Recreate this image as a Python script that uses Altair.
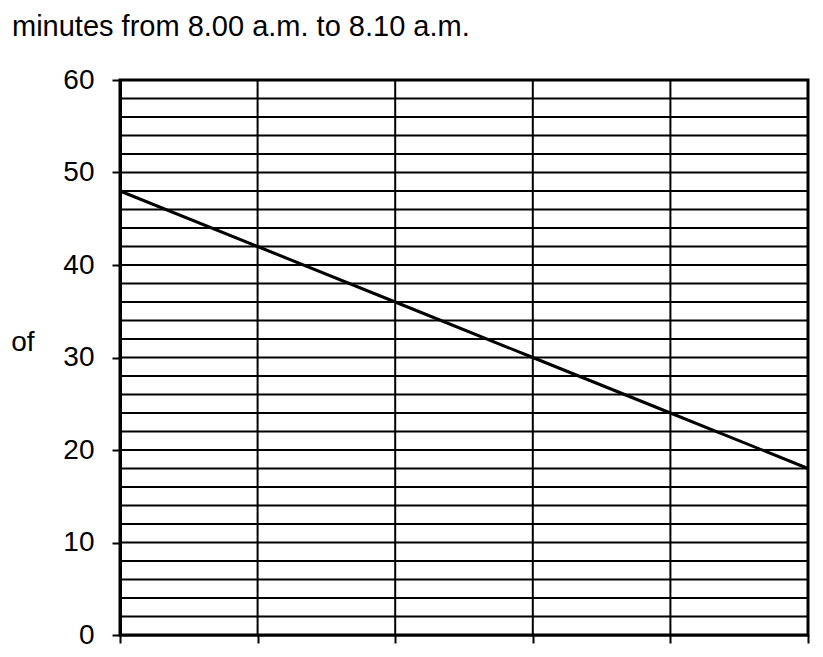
import pandas as pd
import altair as alt

# readings
minutes = [0, 2, 4, 6, 8, 10]
number = [48, 42, 36, 30, 24, 18]

y_labels = [0, 10, 20, 30, 40, 50, 60]
h_lines = list(range(0, 61, 2))
v_lines = [0, 2, 4, 6, 8, 10]

caption = "minutes from 8.00 a.m. to 8.10 a.m."
side_text = "of"

FONT = "Liberation Sans"

line_df = pd.DataFrame({"minute": minutes, "number": number})
hgrid_df = pd.DataFrame({"number": h_lines})
vgrid_df = pd.DataFrame({"minute": v_lines})
caption_df = pd.DataFrame({"t": [caption]})

xs = alt.Scale(domain=[0, 10], nice=False)
ys = alt.Scale(domain=[0, 60], nice=False, zero=True)

x_axis = alt.Axis(values=v_lines, labels=False, title=None, grid=False,
                  domainColor="black", domainWidth=2,
                  tickColor="black", tickWidth=2, tickSize=8)
y_axis = alt.Axis(values=y_labels, grid=False, title=side_text,
                  titleAngle=0, titleAlign="right", titleBaseline="alphabetic",
                  titleX=-86, titleY=270, titleFont=FONT, titleFontSize=28,
                  titleFontWeight="normal", titleColor="black",
                  labelFont=FONT, labelFontSize=28, labelColor="black",
                  labelPadding=18, domainColor="black", domainWidth=3,
                  tickColor="black", tickWidth=2, tickSize=8)

base = alt.Chart(line_df).mark_line(color="black", strokeWidth=3).encode(
    x=alt.X("minute:Q", scale=xs, axis=x_axis),
    y=alt.Y("number:Q", scale=ys, axis=y_axis),
)

hgrid = alt.Chart(hgrid_df).mark_rule(color="black", strokeWidth=2).encode(
    y=alt.Y("number:Q", scale=ys)
)
vgrid = alt.Chart(vgrid_df).mark_rule(color="black", strokeWidth=2).encode(
    x=alt.X("minute:Q", scale=xs)
)

cap = alt.Chart(caption_df).mark_text(
    align="left", baseline="alphabetic", font=FONT, fontSize=29, color="black"
).encode(x=alt.value(-108), y=alt.value(-44), text="t:N")

chart = alt.layer(hgrid, vgrid, base, cap).properties(
    width=688, height=555,
    autosize=alt.AutoSizeParams(type="none"),
    padding={"left": 112, "top": 72, "right": 7, "bottom": 14},
    background="white",
).configure_view(stroke="black", strokeWidth=3)

chart.save("out.html", embed_options={"renderer": "svg", "actions": False})
